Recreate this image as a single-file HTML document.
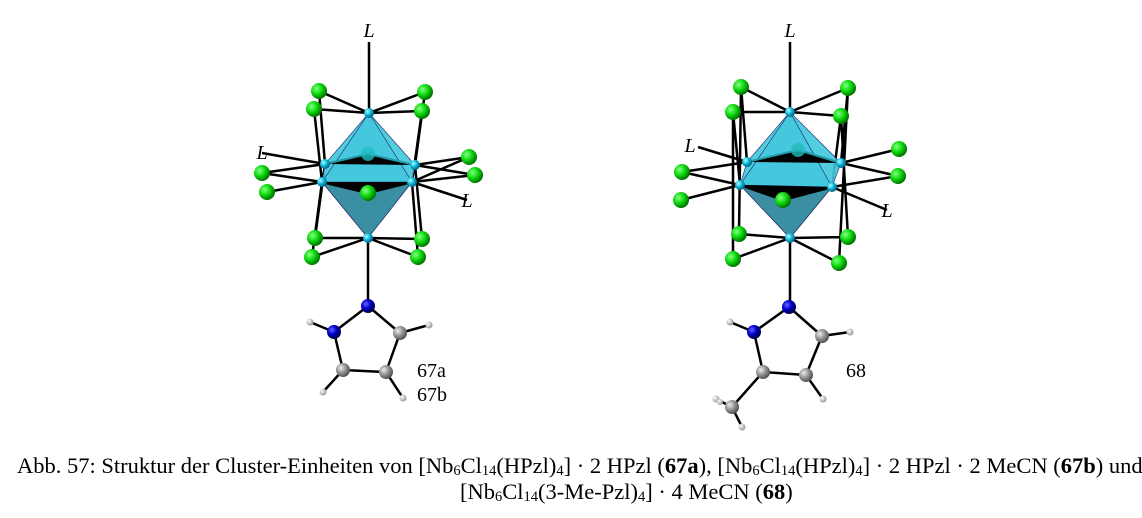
<!DOCTYPE html>
<html><head><meta charset="utf-8"><style>
body{margin:0;background:#fff;width:1142px;height:518px;overflow:hidden;position:relative;font-family:"Liberation Serif",serif}
</style></head><body>
<svg width="1142" height="518" style="position:absolute;left:0;top:0">
<defs>
<radialGradient id="g" cx="35%" cy="35%" r="65%"><stop offset="0" stop-color="#8f8"/><stop offset="0.5" stop-color="#1d1"/><stop offset="1" stop-color="#070"/></radialGradient>
<radialGradient id="c" cx="35%" cy="35%" r="65%"><stop offset="0" stop-color="#bff"/><stop offset="0.5" stop-color="#1bd"/><stop offset="1" stop-color="#068"/></radialGradient>
<radialGradient id="b" cx="35%" cy="35%" r="65%"><stop offset="0" stop-color="#66f"/><stop offset="0.5" stop-color="#00c"/><stop offset="1" stop-color="#004"/></radialGradient>
<radialGradient id="k" cx="35%" cy="35%" r="65%"><stop offset="0" stop-color="#eee"/><stop offset="0.5" stop-color="#999"/><stop offset="1" stop-color="#555"/></radialGradient>
<radialGradient id="w" cx="35%" cy="35%" r="65%"><stop offset="0" stop-color="#fff"/><stop offset="1" stop-color="#999"/></radialGradient>
</defs>
<g stroke="#000" stroke-width="2.5" fill="none">
<path d="M369 42V113M369 113L319 91M369 113L314 109M369 113L425 92M369 113L422 111M319 91L325 164M314 109L322 182M425 92L415 165M422 111L412 182
M325 164L262 173M322 182L262 173M322 182L267 192M325 164L262 153M415 165L469 157M412 182L469 157M415 165L475 175M412 182L475 175M412 182L467 200
M322 182L368 193M412 182L368 193M325 164L315 238M322 182L312 257M415 165L422 239M412 182L418 257
M368 238L315 238M368 238L312 257M368 238L422 239M368 238L418 257M368 238V306M368 306L334 332M334 332L310 322M368 306L400 333M400 333L429 325M334 332L343 370M343 370L386 372M386 372L400 333M343 370L323 392M386 372L403 398"/>
<path d="M790 42V112M790 112L741 87M790 112L733 112M790 112L848 88M790 112L841 116M741 87L747 162M733 112L740 185M848 88L841 163M841 116L832 187M741 87L739 234M848 88L839 263
M747 162L682 172M740 185L682 172M740 185L681 200M747 162L698 147M841 163L899 149M832 187L898 176M841 163L898 176M832 187L887 210M740 185L783 200M832 187L783 200
M733 112L733 259M841 116L848 237M790 238L739 234M790 238L733 259M790 238L848 237M790 238L839 263M790 238V307M789 307L754 332M754 332L730 322M789 307L822 336M822 336L850 332M754 332L763 372M763 372L806 375M806 375L822 336M763 372L732 407M806 375L823 399M732 407L716 399M732 407L742 427M732 407L722 402"/>
</g>
<g stroke="#226" stroke-width="0.6">
<polygon points="369,113 325,164 322,182 368,238 412,182 415,165" fill="#3fc6dc" fill-opacity="0.9"/>
<polygon points="322,182 368,238 412,182" fill="#3a8fa2"/>
<polygon points="369,113 322,182 412,182" fill="#45c8de"/>
<polygon points="790,112 747,162 740,185 790,238 832,187 841,163" fill="#3fc6dc" fill-opacity="0.9"/>
<polygon points="740,185 790,238 832,187" fill="#3a8fa2"/>
<polygon points="790,112 740,185 832,187" fill="#45c8de"/>
</g>
<g stroke="#29a" stroke-width="2"><path d="M325 164L368 154L415 165M747 162L798 150L841 163"/></g>
<g stroke="#000" stroke-width="2.5"><path d="M322 182L368 193L412 182M740 185L783 200L832 187"/></g>
<g fill="url(#g)">
<circle cx="319" cy="91" r="8"/><circle cx="314" cy="109" r="8"/><circle cx="425" cy="92" r="8"/><circle cx="422" cy="111" r="8"/>
<circle cx="262" cy="173" r="8"/><circle cx="267" cy="192" r="8"/><circle cx="469" cy="157" r="8"/><circle cx="475" cy="175" r="8"/><circle cx="368" cy="193" r="8"/>
<circle cx="315" cy="238" r="8"/><circle cx="312" cy="257" r="8"/><circle cx="422" cy="239" r="8"/><circle cx="418" cy="257" r="8"/>
<circle cx="741" cy="87" r="8"/><circle cx="733" cy="112" r="8"/><circle cx="848" cy="88" r="8"/><circle cx="841" cy="116" r="8"/>
<circle cx="682" cy="172" r="8"/><circle cx="681" cy="200" r="8"/><circle cx="899" cy="149" r="8"/><circle cx="898" cy="176" r="8"/><circle cx="783" cy="200" r="8"/>
<circle cx="739" cy="234" r="8"/><circle cx="733" cy="259" r="8"/><circle cx="848" cy="237" r="8"/><circle cx="839" cy="263" r="8"/>
</g>
<circle cx="368" cy="154" r="7" fill="#2bb" opacity="0.8"/><circle cx="798" cy="150" r="7" fill="#2bb" opacity="0.8"/>
<g fill="url(#c)">
<circle cx="369" cy="113" r="5"/><circle cx="325" cy="164" r="5"/><circle cx="322" cy="182" r="5"/><circle cx="415" cy="165" r="5"/><circle cx="412" cy="182" r="5"/><circle cx="368" cy="238" r="5"/>
<circle cx="790" cy="112" r="5"/><circle cx="747" cy="162" r="5"/><circle cx="740" cy="185" r="5"/><circle cx="841" cy="163" r="5"/><circle cx="832" cy="187" r="5"/><circle cx="790" cy="238" r="5"/>
</g>
<g fill="url(#b)"><circle cx="368" cy="306" r="7"/><circle cx="334" cy="332" r="7"/><circle cx="789" cy="307" r="7"/><circle cx="754" cy="332" r="7"/></g>
<g fill="url(#k)"><circle cx="400" cy="333" r="7"/><circle cx="343" cy="370" r="7"/><circle cx="386" cy="372" r="7"/><circle cx="822" cy="336" r="7"/><circle cx="763" cy="372" r="7"/><circle cx="806" cy="375" r="7"/><circle cx="732" cy="407" r="7"/></g>
<g fill="url(#w)"><circle cx="310" cy="322" r="3.5"/><circle cx="429" cy="325" r="3.5"/><circle cx="323" cy="392" r="3.5"/><circle cx="403" cy="398" r="3.5"/>
<circle cx="730" cy="322" r="3.5"/><circle cx="850" cy="332" r="3.5"/><circle cx="823" cy="399" r="3.5"/><circle cx="716" cy="399" r="3.5"/><circle cx="742" cy="427" r="3.5"/><circle cx="720" cy="402" r="3"/></g>
<g font-family="Liberation Serif,serif" font-style="italic" font-size="20" text-anchor="middle">
<text x="369" y="37">L</text><text x="262" y="159">L</text><text x="467" y="207">L</text>
<text x="790" y="37">L</text><text x="690" y="152">L</text><text x="887" y="217">L</text>
</g>
<g font-family="Liberation Serif,serif" font-size="20">
<text x="417" y="377">67a</text><text x="417" y="401">67b</text><text x="846" y="377">68</text>
</g>
<g font-family="Liberation Serif,serif" font-size="22.5" fill="#000">
<text x="17" y="473">Abb. 57: Struktur der Cluster-Einheiten von [Nb<tspan font-size="14.5" dy="2">6</tspan><tspan dy="-2">Cl</tspan><tspan font-size="14.5" dy="2">14</tspan><tspan dy="-2">(HPzl)</tspan><tspan font-size="14.5" dy="2">4</tspan><tspan dy="-2">] · 2 HPzl (</tspan><tspan font-weight="bold">67a</tspan>), [Nb<tspan font-size="14.5" dy="2">6</tspan><tspan dy="-2">Cl</tspan><tspan font-size="14.5" dy="2">14</tspan><tspan dy="-2">(HPzl)</tspan><tspan font-size="14.5" dy="2">4</tspan><tspan dy="-2">] · 2 HPzl · 2 MeCN (</tspan><tspan font-weight="bold">67b</tspan>) und</text>
<text x="460" y="499">[Nb<tspan font-size="14.5" dy="2">6</tspan><tspan dy="-2">Cl</tspan><tspan font-size="14.5" dy="2">14</tspan><tspan dy="-2">(3-Me-Pzl)</tspan><tspan font-size="14.5" dy="2">4</tspan><tspan dy="-2">] · 4 MeCN (</tspan><tspan font-weight="bold">68</tspan>)</text>
</g>
</svg>
</body></html>
